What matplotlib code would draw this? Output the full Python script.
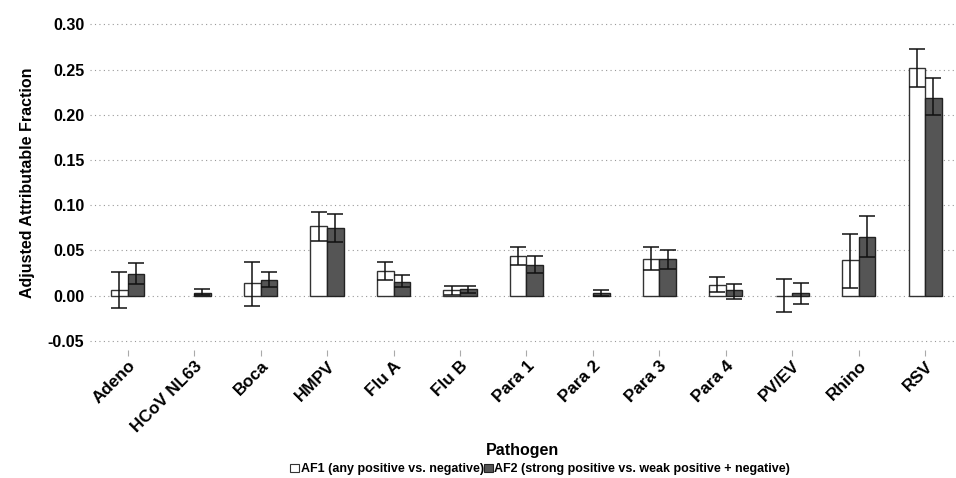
import numpy as np
import matplotlib.pyplot as plt
from matplotlib.patches import Patch

plt.rcParams['font.family'] = ['Liberation Sans', 'DejaVu Sans']

# Categorias e valores
pathogens = ['Adeno', 'HCoV NL63', 'Boca', 'HMPV', 'Flu A', 'Flu B', 'Para 1',
             'Para 2', 'Para 3', 'Para 4', 'PV/EV', 'Rhino', 'RSV']

af1 = [0.006, np.nan, 0.014, 0.077, 0.027, 0.006, 0.044, np.nan, 0.041, 0.012, 0.000, 0.039, 0.252]
af1_lo = [-0.014, np.nan, -0.012, 0.060, 0.017, 0.001, 0.034, np.nan, 0.028, 0.004, -0.018, 0.008, 0.231]
af1_hi = [0.026, np.nan, 0.037, 0.093, 0.037, 0.011, 0.054, np.nan, 0.054, 0.021, 0.018, 0.068, 0.273]

af2 = [0.024, 0.003, 0.017, 0.075, 0.015, 0.007, 0.034, 0.003, 0.040, 0.006, 0.003, 0.065, 0.219]
af2_lo = [0.013, 0.001, 0.009, 0.059, 0.009, 0.003, 0.025, 0.000, 0.029, -0.004, -0.009, 0.043, 0.200]
af2_hi = [0.036, 0.007, 0.026, 0.090, 0.023, 0.011, 0.044, 0.006, 0.051, 0.013, 0.014, 0.088, 0.241]

yticks = [-0.05, 0.00, 0.05, 0.10, 0.15, 0.20, 0.25, 0.30]

fig = plt.figure(figsize=(9.56, 4.78), dpi=100)
ax = fig.add_axes([0.094, 0.268, 0.905, 0.7])

x = np.arange(len(pathogens))
w = 0.25

a1 = np.array(af1)
a2 = np.array(af2)
err1 = [a1 - np.array(af1_lo), np.array(af1_hi) - a1]
err2 = [a2 - np.array(af2_lo), np.array(af2_hi) - a2]

ax.bar(x - w / 2, a1, w, color='white', edgecolor='#333333', linewidth=1, zorder=2)
ax.bar(x + w / 2, a2, w, color='#555555', edgecolor='#222222', linewidth=1, zorder=2)
ax.errorbar(x - w / 2, a1, yerr=err1, fmt='none', ecolor='#111111', elinewidth=1.1,
            capsize=6, capthick=1.1, zorder=3)
ax.errorbar(x + w / 2, a2, yerr=err2, fmt='none', ecolor='#111111', elinewidth=1.1,
            capsize=6, capthick=1.1, zorder=3)

ax.set_xlim(-0.57, 12.45)
ax.set_ylim(-0.06, 0.31)
ax.set_yticks(yticks)
ax.set_yticklabels(['%.2f' % v for v in yticks], fontsize=11.5, fontweight='bold')
ax.yaxis.grid(True, linestyle=(0, (1, 3)), color='#999999', linewidth=0.8, zorder=0)
ax.set_axisbelow(True)
for s in ax.spines.values():
    s.set_visible(False)
ax.tick_params(axis='y', length=0, pad=4)
ax.tick_params(axis='x', length=4, color='#aaaaaa', width=0.8, pad=2)

ax.set_xticks(x)
ax.set_xticklabels(pathogens, rotation=45, ha='right', rotation_mode='anchor',
                   fontsize=12.3, fontweight='bold')

ax.set_ylabel('Adjusted Attributable Fraction', fontsize=11.5, fontweight='bold', labelpad=9)
ax.set_xlabel('Pathogen', fontsize=11.5, fontweight='bold', labelpad=6)

handles = [Patch(facecolor='white', edgecolor='#333333', linewidth=0.8),
           Patch(facecolor='#555555', edgecolor='#222222', linewidth=0.8)]
fig.legend(handles, ['AF1 (any positive vs. negative)',
                     'AF2 (strong positive vs. weak positive + negative)'],
           loc='lower center', bbox_to_anchor=(0.565, -0.005), ncol=2, frameon=False,
           prop={'size': 9, 'weight': 'bold'}, handlelength=0.7, handleheight=0.7,
           handletextpad=0.15, columnspacing=0.0, borderaxespad=0.0)

plt.savefig('out.png', dpi=100)
